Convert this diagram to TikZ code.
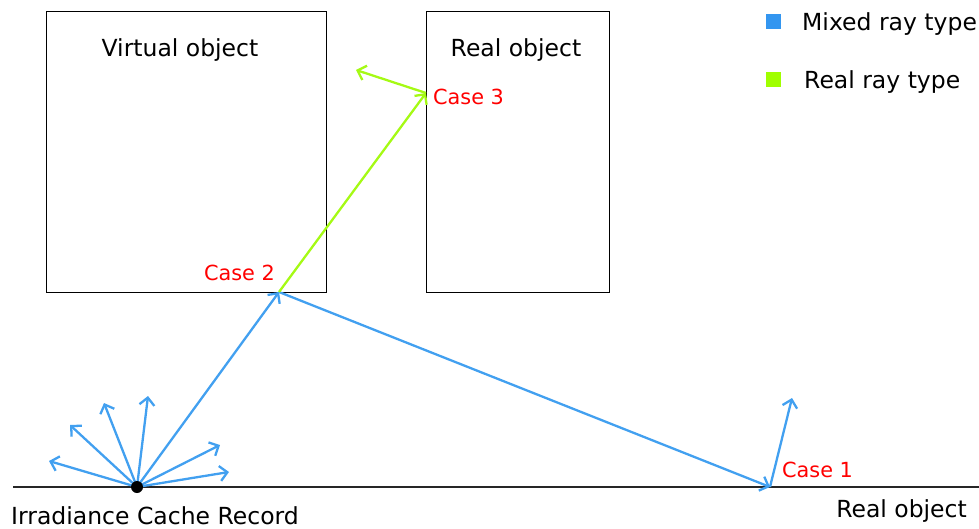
\documentclass[tikz,border=0pt]{standalone}
\usepackage{fontspec}
\setmainfont{DejaVu Sans}
\usetikzlibrary{arrows.meta}
\definecolor{rayblue}{RGB}{66,160,240}
\definecolor{raygreen}{RGB}{165,250,20}
\definecolor{legblue}{RGB}{51,150,240}
\definecolor{leggreen}{RGB}{160,255,0}
\begin{document}
\begin{tikzpicture}[x=1pt,y=-1pt,
  obj/.style={draw=black, line width=1.2pt, inner sep=0pt, anchor=north west},
  lab/.style={inner sep=0pt, font=\fontsize{23.5}{27}\selectfont, text=black},
  caselab/.style={inner sep=0pt, font=\fontsize{20.8}{24}\selectfont, text=red},
  bluray/.style={draw=rayblue, line width=2.3pt, -{Straight Barb[length=7.5pt,width=15pt,line width=2.3pt]}},
  greenray/.style={draw=raygreen, line width=2.3pt, -{Straight Barb[length=7.5pt,width=15pt,line width=2.3pt]}},
  legbox/.style={minimum size=15pt, inner sep=0pt}]
\useasboundingbox (0,0) rectangle (979,529);
% objects
\node[obj, minimum width=280pt, minimum height=281pt] (virt) at (46,11) {};
\node[obj, minimum width=183pt, minimum height=281pt] (realbox) at (426,11) {};
\node[lab] (virtlab) at (180,50) {Virtual object};
\node[lab] (reallab) at (516,50) {Real object};
% ground
\coordinate (gl) at (13,487);
\coordinate (gr) at (979,487);
\draw[line width=1.3pt, black!85] (gl) -- (gr);
\node[lab, anchor=east] (groundlab) at (967,511) {Real object};
\node[lab, anchor=west] (reclab) at (11,516) {Irradiance Cache Record};
% key points
\coordinate (c1) at (770,487);
\coordinate (c2) at (279,292);
\coordinate (c3) at (426,93);
\coordinate (c3out) at (356,70);
\coordinate (c1out) at (792,398);
\coordinate (f1) at (49,461);
\coordinate (f2) at (70,425);
\coordinate (f3) at (104,403);
\coordinate (f4) at (148,396);
\coordinate (f5) at (220,445);
\coordinate (f6) at (229,472);
% fan
\foreach \t in {f1,f2,f3,f4,f5,f6} \draw[bluray] (137,487) -- (\t);
\draw[bluray] (137,487) -- (c2);
\draw[bluray] (c2) -- (c1);
\draw[bluray] (c1) -- (c1out);
\draw[greenray] (c2) -- (c3);
\draw[greenray] (c3) -- (c3out);
\node[circle, fill=black, minimum size=12pt, inner sep=0pt] (rec) at (137,487) {};
% case labels
\node[caselab, anchor=west] (case3) at (433,97) {Case 3};
\node[caselab, anchor=east] (case2) at (275,273) {Case 2};
\node[caselab, anchor=west] (case1) at (782,470) {Case 1};
% legend
\node[legbox, fill=legblue] (lb) at (773,22) {};
\node[legbox, fill=leggreen] (lg) at (773,80) {};
\node[lab, anchor=west] (lbl) at (802,24) {Mixed ray type};
\node[lab, anchor=west] (lgl) at (804,82) {Real ray type};
\end{tikzpicture}
\end{document}
